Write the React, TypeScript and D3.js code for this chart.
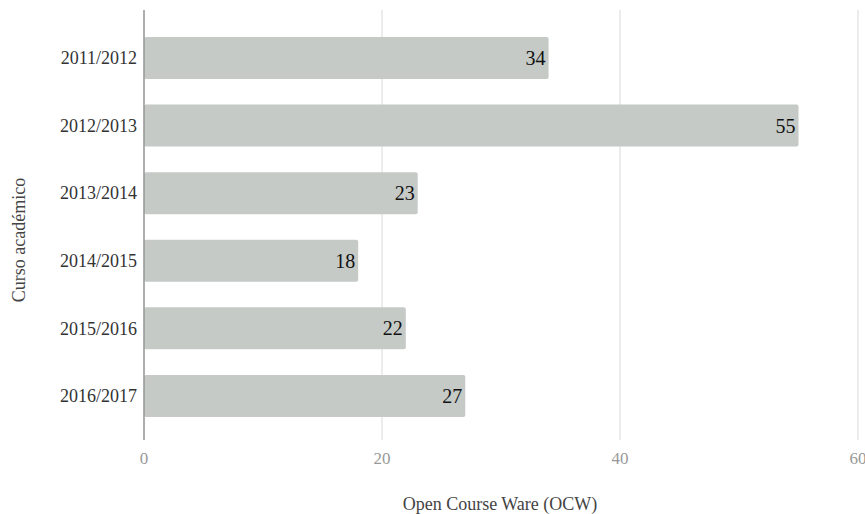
import React from "react";
import * as d3 from "d3";

const categories = ["2011/2012", "2012/2013", "2013/2014", "2014/2015", "2015/2016", "2016/2017"];
const values = [34, 55, 23, 18, 22, 27];
const xTicks = [0, 20, 40, 60];
const xTitle = "Open Course Ware (OCW)";
const yTitle = "Curso académico";

export default function App() {
  const W = 865, H = 514;
  const x = d3.scaleLinear().domain([0, 60]).range([144, 858]);
  const y = d3.scaleBand<string>().domain(categories).range([16.7, 437.2]).paddingInner(0.379).paddingOuter(0.3);
  const font = "'Liberation Serif', 'Times New Roman', serif";
  return (
    <svg width={W} height={H} style={{ position: "absolute", left: 0, top: 0 }} fontFamily={font}>
      {xTicks.map((t) => (
        <g key={t}>
          {t !== 0 && <line x1={x(t)} x2={x(t)} y1={10} y2={440} stroke="#e0e0e0" strokeWidth={1.2} />}
          <text x={x(t)} y={464} textAnchor="middle" fontSize={17} fill="#999">{t}</text>
        </g>
      ))}
      {categories.map((c, i) => (
        <g key={c}>
          <rect x={x(0)} y={y(c)} width={x(values[i]) - x(0)} height={y.bandwidth()} fill="#c5cac7" rx={2} />
          <text x={x(values[i]) - 3} y={(y(c) as number) + y.bandwidth() / 2} dy="0.35em" textAnchor="end" fontSize={20} fill="#111">{values[i]}</text>
          <text x={137} y={(y(c) as number) + y.bandwidth() / 2} dy="0.35em" textAnchor="end" fontSize={18} fill="#333">{c}</text>
        </g>
      ))}
      <line x1={x(0)} x2={x(0)} y1={10} y2={440} stroke="#9a9a9a" strokeWidth={1.6} />
      <text x={500} y={510} textAnchor="middle" fontSize={18} fill="#444">{xTitle}</text>
      <text transform={`translate(25,240) rotate(-90)`} textAnchor="middle" fontSize={18} fill="#444">{yTitle}</text>
    </svg>
  );
}
